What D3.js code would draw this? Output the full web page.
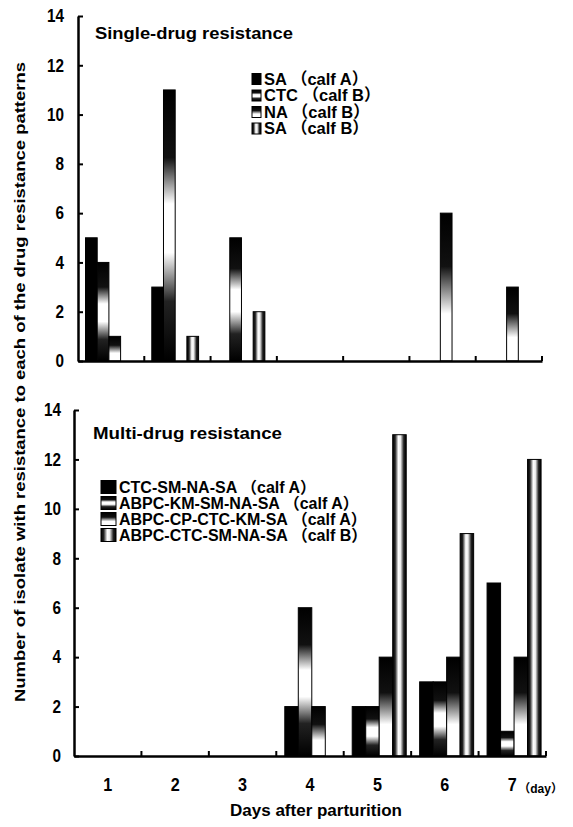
<!DOCTYPE html>
<html>
<head>
<meta charset="utf-8">
<script src="https://cdn.jsdelivr.net/npm/d3@7"></script>
<style>
  body { margin: 0; background: #fff; }
  svg { display: block; font-family: "Liberation Sans", Arial, "Noto Sans CJK JP", sans-serif; }
  .tick text { font-weight: bold; }
</style>
</head>
<body>
<div class="chart"></div>
<script>
// values
const days = ["1", "2", "3", "4", "5", "6", "7"];
const yTicks = [0, 2, 4, 6, 8, 10, 12, 14];

const singleSeries = ["SA （calf A）", "CTC （calf B）", "NA （calf B）", "SA （calf B）"];
const singleSA_A  = [5, 3, 0, 0, 0, 0, 0];
const singleCTC_B = [4, 11, 5, 0, 0, 0, 0];
const singleNA_B  = [1, 0, 0, 0, 0, 6, 3];
const singleSA_B  = [0, 1, 2, 0, 0, 0, 0];

const multiSeries = ["CTC-SM-NA-SA （calf A）", "ABPC-KM-SM-NA-SA （calf A）",
                     "ABPC-CP-CTC-KM-SA （calf A）", "ABPC-CTC-SM-NA-SA （calf B）"];
const multi1 = [0, 0, 0, 2, 2, 3, 7];
const multi2 = [0, 0, 0, 6, 2, 3, 1];
const multi3 = [0, 0, 0, 2, 4, 4, 4];
const multi4 = [0, 0, 0, 0, 13, 9, 12];

const width = 573, height = 827;
const svg = d3.select(".chart").append("svg")
    .attr("width", width)
    .attr("height", height);

// fills: solid, dark-white-dark (vertical), dark-to-white (vertical), dark-white-dark (horizontal)
const defs = svg.append("defs");
function grad(id, horizontal, stops) {
    const g = defs.append("linearGradient").attr("id", id)
        .attr("x1", 0).attr("y1", 0)
        .attr("x2", horizontal ? 1 : 0).attr("y2", horizontal ? 0 : 1);
    stops.forEach(s => g.append("stop").attr("offset", s[0]).attr("stop-color", s[1]));
}
grad("f1", false, [[0, "#000"], [0.25, "#111"], [0.42, "#fff"], [0.6, "#fff"], [0.78, "#222"], [1, "#000"]]);
grad("f2", false, [[0, "#000"], [0.36, "#111"], [0.52, "#888"], [0.68, "#fff"], [1, "#fff"]]);
grad("f3", true, [[0, "#000"], [0.18, "#222"], [0.42, "#fff"], [0.58, "#eee"], [0.82, "#222"], [1, "#000"]]);
const fills = ["#000", "url(#f1)", "url(#f2)", "url(#f3)"];

function drawPanel(p) {
    const x0 = d3.scaleBand().domain(days).range([p.left, p.right]).padding(0);
    const x1 = d3.scaleBand().domain(d3.range(p.values.length)).range(p.inner).padding(0);
    const y = d3.scaleLinear().domain([0, 14]).range([p.bottom, p.top]);
    const g = svg.append("g");

    p.values.forEach((vals, s) => {
        g.selectAll(null)
            .data(vals.map((v, i) => ({day: days[i], v: v})).filter(d => d.v > 0))
            .enter()
            .append("rect")
            .attr("x", d => x0(d.day) + x1(s))
            .attr("width", x1.bandwidth())
            .attr("y", d => y(d.v))
            .attr("height", d => y(0) - y(d.v))
            .style("fill", fills[s])
            .style("stroke", "#000")
            .style("stroke-width", 1);
    });

    // y axis, ticks pointing inward
    const yAxis = d3.axisLeft(y).tickValues(yTicks).tickSize(-5).tickSizeOuter(0).tickPadding(p.pad);
    const ya = g.append("g").attr("transform", `translate(${p.left},0)`).call(yAxis);
    ya.select(".domain").attr("stroke-width", 2.5);
    ya.selectAll(".tick line").attr("stroke-width", 2);
    ya.selectAll(".tick text").attr("font-size", 18).attr("fill", "#000")
        .attr("textLength", d => String(d).length * 8.5)
        .attr("lengthAdjust", "spacingAndGlyphs");

    // x axis
    const xAxis = d3.axisBottom(x0).tickSize(0).tickSizeOuter(0).tickPadding(22);
    const xa = g.append("g").attr("transform", `translate(0,${p.bottom})`).call(xAxis);
    xa.select(".domain").attr("stroke-width", 2.5);
    xa.selectAll(".tick text").attr("font-size", 19).attr("fill", "#000")
        .attr("textLength", 9).attr("lengthAdjust", "spacingAndGlyphs")
        .style("visibility", p.labels ? "visible" : "hidden");
    g.selectAll(null)
        .data(days)
        .enter()
        .append("line")
        .attr("x1", d => x0(d) + x0.bandwidth())
        .attr("x2", d => x0(d) + x0.bandwidth())
        .attr("y1", p.bottom)
        .attr("y2", p.bottom - 5)
        .attr("stroke", "#000")
        .attr("stroke-width", 2);

    g.append("text")
        .attr("x", p.titleX).attr("y", p.titleY)
        .attr("font-size", 17).attr("font-weight", "bold")
        .attr("textLength", p.titleW).attr("lengthAdjust", "spacingAndGlyphs")
        .text(p.title);

    // legend
    const leg = g.selectAll(null)
        .data(p.series)
        .enter()
        .append("g")
        .attr("transform", (_, i) => `translate(${p.legX},${p.legY + i * p.legStep})`);
    leg.append("rect")
        .attr("x", -p.sw - 3).attr("y", -p.sh / 2)
        .attr("width", p.sw).attr("height", p.sh)
        .style("fill", (_, i) => fills[i])
        .style("stroke", "#000");
    leg.append("text")
        .attr("dy", "0.36em")
        .attr("font-size", p.legFont).attr("font-weight", "bold")
        .text(d => d);
    return x0;
}

drawPanel({
    values: [singleSA_A, singleCTC_B, singleNA_B, singleSA_B], series: singleSeries,
    left: 78, right: 542, top: 16, bottom: 361, inner: [7.5, 54.3], pad: 14, labels: false,
    title: "Single-drug resistance", titleX: 95, titleY: 39, titleW: 198,
    legX: 264, legY: 79, legStep: 16.5, sw: 9, sh: 11, legFont: 16.5
});

const xBottom = drawPanel({
    values: [multi1, multi2, multi3, multi4], series: multiSeries,
    left: 74, right: 546, top: 410, bottom: 756, inner: [8.5, 62.5], pad: 13, labels: true,
    title: "Multi-drug resistance", titleX: 93, titleY: 439, titleW: 189,
    legX: 119, legY: 487, legStep: 16, sw: 15, sh: 13, legFont: 16
});

// "(day)" after the last day label
svg.append("text")
    .attr("x", xBottom(days[6]) + xBottom.bandwidth() / 2 + 6)
    .attr("y", 793)
    .attr("font-size", 12).attr("font-weight", "bold")
    .text("（day）");

svg.append("text")
    .attr("x", 316).attr("y", 816)
    .attr("text-anchor", "middle")
    .attr("font-size", 17).attr("font-weight", "bold")
    .text("Days after parturition");

svg.append("text")
    .attr("transform", "translate(25,382)rotate(-90)")
    .attr("text-anchor", "middle")
    .attr("font-size", 15).attr("font-weight", "bold")
    .attr("textLength", 640).attr("lengthAdjust", "spacingAndGlyphs")
    .text("Number of isolate with resistance to each of the drug resistance patterns");
</script>
</body>
</html>
